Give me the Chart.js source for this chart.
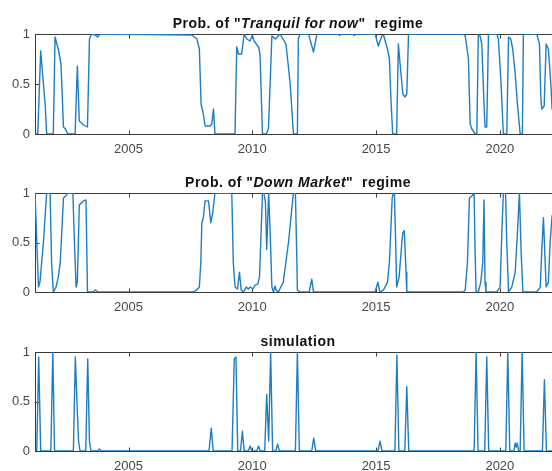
<!DOCTYPE html>
<html><head><meta charset="utf-8">
<script src="https://cdn.jsdelivr.net/npm/chart.js@4"></script>
<style>
html,body{margin:0;padding:0;background:#fff;overflow:hidden;}
#wrap{position:relative;width:552px;height:471px;overflow:hidden;background:#fff;}
canvas{position:absolute;left:0;}
.ttl{position:absolute;left:0;width:596px;text-align:center;font:bold 14px "Liberation Sans",Arial,sans-serif;color:#111;white-space:pre;letter-spacing:0.5px;line-height:14px;z-index:2;}
</style></head><body>
<div id="wrap">
<canvas id="c1" width="570" height="160"></canvas>
<canvas id="c2" width="570" height="160"></canvas>
<canvas id="c3" width="570" height="160"></canvas>
<div class="ttl" id="t1" style="top:16px">Prob. of "<i>Tranquil for now</i>"  regime</div>
<div class="ttl" id="t2" style="top:175px">Prob. of "<i>Down Market</i>"  regime</div>
<div class="ttl" id="t3" style="top:334px">simulation</div>
</div>
<script>
// ---- data (decimal years, probabilities) ----
const xTickYears = [2005, 2010, 2015, 2020];
const yTickValues = [0, 0.5, 1];
const xMin = 2001.22, xMax = 2022.47;

const tranquilYears = [2001.22,2001.33,2001.45,2001.56,2001.63,2001.69,2001.96,2002.03,2002.16,2002.27,2002.37,2002.45,2002.54,2002.84,2002.93,2003.01,2003.18,2003.34,2003.42,2003.51,2003.65,2003.75,2003.85,2007.55,2007.76,2007.86,2007.93,2008.02,2008.09,2008.29,2008.36,2008.43,2008.49,2009.30,2009.37,2009.44,2009.57,2009.67,2009.78,2009.91,2010.00,2010.07,2010.25,2010.31,2010.41,2010.56,2010.65,2010.79,2010.93,2011.12,2011.36,2011.53,2011.66,2011.82,2011.86,2011.93,2012.27,2012.47,2012.61,2013.45,2013.52,2013.6,2014.05,2014.12,2014.2,2014.96,2015.09,2015.23,2015.30,2015.46,2015.54,2015.59,2015.67,2015.83,2015.90,2015.97,2016.08,2016.17,2016.24,2016.31,2018.53,2018.60,2018.73,2018.80,2018.87,2019.00,2019.07,2019.13,2019.20,2019.27,2019.36,2019.40,2019.47,2019.54,2019.88,2019.94,2020.05,2020.14,2020.28,2020.35,2020.44,2020.52,2020.62,2020.71,2020.82,2020.91,2020.95,2021.49,2021.60,2021.65,2021.69,2021.79,2021.87,2021.96,2022.06,2022.11,2022.2,2022.47];
const tranquilProb  = [0,0,0.83,0.5,0.3,0,0,0.97,0.85,0.70,0.07,0.05,0,0,0.68,0.13,0.09,0.07,0.95,1.0,0.99,0.97,1.0,0.99,0.95,0.85,0.3,0.2,0.08,0.08,0.1,0.25,0,0,0.87,0.8,0.8,1.0,0.95,0.93,0.99,0.93,0.87,0.8,0,0,0.05,0.98,0.95,1.0,0.9,0.5,0,0,0.95,1.0,1.0,0.82,1.0,1.0,0.985,1.0,1.0,0.985,1.0,1.0,0.88,0.98,0.99,0.85,0.75,0.4,0,0,0.9,0.7,0.4,0.37,0.4,1.0,1.0,0.98,0.75,0.1,0.05,0,0,1.0,0.98,0.9,0.3,0.07,0.07,1.0,1.0,0.95,0.5,0,0,0.97,0.95,0.85,0.6,0.3,0,0,1.0,1.0,0.9,0.4,0.25,0.28,0.9,0.85,0.5,0.25,0.2,0.2];

const downYears = [2001.22,2001.36,2001.42,2001.56,2001.69,2001.83,2001.89,2001.96,2002.07,2002.16,2002.24,2002.37,2002.46,2002.54,2002.75,2002.80,2002.88,2002.93,2003.01,2003.18,2003.28,2003.34,2003.58,2003.66,2003.76,2007.6,2007.75,2007.86,2007.92,2007.96,2008.02,2008.09,2008.23,2008.32,2008.40,2008.49,2009.17,2009.23,2009.30,2009.40,2009.48,2009.55,2009.64,2009.75,2009.84,2009.91,2010.02,2010.11,2010.22,2010.29,2010.34,2010.41,2010.47,2010.53,2010.58,2010.66,2010.72,2010.79,2010.85,2010.92,2010.96,2011.05,2011.25,2011.46,2011.66,2011.74,2011.80,2011.82,2011.93,2012.30,2012.40,2012.47,2014.96,2015.07,2015.15,2015.30,2015.46,2015.54,2015.59,2015.65,2015.70,2015.74,2015.80,2015.83,2015.93,2016.04,2016.08,2016.14,2016.21,2016.24,2018.53,2018.60,2018.69,2018.77,2018.87,2018.96,2019.00,2019.04,2019.13,2019.23,2019.31,2019.36,2019.40,2019.44,2019.88,2020.01,2020.08,2020.14,2020.23,2020.28,2020.35,2020.48,2020.62,2020.71,2020.79,2020.86,2020.93,2021.49,2021.63,2021.69,2021.76,2021.83,2021.87,2021.96,2022.03,2022.11,2022.2,2022.47];
const downProb  = [1.0,0.05,0.1,0.5,1.0,1.0,0.3,0,0.05,0.15,0.3,0.95,0.97,1.0,1.0,0.6,0.05,0.1,0.88,0.92,0.93,0,0,0.02,0,0,0.02,0.05,0.3,0.7,0.75,0.92,0.92,0.7,0.8,1.0,1.0,0.3,0.05,0.03,0.2,0.02,0,0.05,0.03,0.05,0.03,0.07,0.08,0.15,0.5,1.0,1.0,0.9,0.43,1.0,0.6,0.05,0,0.06,0.02,0,0.1,0.5,1.0,1.0,0.3,0.02,0,0,0.13,0,0,0.1,0,0.02,0.1,0.3,0.6,0.95,1.0,1.0,0.4,0.05,0.15,0.5,0.6,0.62,0.2,0,0,0.02,0.3,0.95,0.97,1.0,0.4,0,0,0.1,0.3,0.93,0.1,0,0,0.05,0.6,1.0,1.0,0.5,0,0.05,0.2,0.6,1.0,0.4,0,0,0.05,0.4,0.75,0.3,0.05,0.1,0.5,0.77,0.8,0.8];

const simYears = [2001.22,2001.29,2001.37,2001.45,2001.86,2001.94,2002.01,2002.77,2002.85,2002.93,2002.98,2003.04,2003.27,2003.35,2003.42,2003.48,2003.75,2003.82,2003.9,2008.25,2008.34,2008.42,2009.18,2009.27,2009.34,2009.41,2009.52,2009.60,2009.67,2009.84,2009.91,2009.98,2010.18,2010.25,2010.32,2010.50,2010.58,2010.66,2010.74,2010.82,2010.95,2011.02,2011.09,2011.74,2011.82,2011.90,2012.40,2012.48,2012.56,2015.08,2015.16,2015.24,2015.76,2015.84,2015.92,2016.16,2016.24,2016.32,2018.96,2019.04,2019.12,2019.39,2019.47,2019.55,2020.24,2020.32,2020.40,2020.57,2020.62,2020.66,2020.70,2020.76,2020.82,2020.90,2020.98,2021.72,2021.80,2021.88,2022.47];
const simProb  = [0,0,0.95,0,0,1.0,0,0,0.95,0.4,0.1,0,0,0.93,0.1,0,0,0.02,0,0,0.23,0,0,0.93,0.95,0,0,0.2,0,0,0.05,0,0,0.05,0,0,0.57,0.1,1.0,0,0,0.07,0,0,1.0,0,0,0.13,0,0,0.1,0,0,0.97,0,0,0.65,0,0,1.0,0,0,0.95,0,0,1.0,0,0,0.08,0.04,0.08,0,0,1.0,0,0,0.72,0,0];

// ---- drawing ----
const framePlugin = {
  id: 'frame',
  beforeDatasetsDraw(chart) {
    const {ctx, chartArea: a, scales} = chart;
    ctx.save();
    ctx.strokeStyle = '#3a3a3a';
    ctx.lineWidth = 1;
    const l = Math.round(a.left) + 0.5, r = Math.round(a.right) + 0.5;
    const t = Math.round(a.top) + 0.5, b = Math.round(a.bottom) + 0.5;
    ctx.strokeRect(l, t, r - l, b - t);
    ctx.beginPath();
    xTickYears.forEach(v => {
      const x = Math.round(scales.x.getPixelForValue(v)) + 0.5;
      ctx.moveTo(x, b); ctx.lineTo(x, b - 4);
      ctx.moveTo(x, t); ctx.lineTo(x, t + 4);
    });
    yTickValues.forEach(v => {
      const y = Math.round(scales.y.getPixelForValue(v)) + 0.5;
      ctx.moveTo(l, y); ctx.lineTo(l + 4, y);
      ctx.moveTo(r, y); ctx.lineTo(r - 4, y);
    });
    ctx.stroke();
    ctx.restore();
  }
};

const tickFont = {family: '"Liberation Sans", Arial, sans-serif', size: 13};
const tickColor = '#474747';

function makePanel(id, years, probs, axisTop, axisBottom) {
  const el = document.getElementById(id);
  const canvasTop = axisTop - 34;
  el.style.top = canvasTop + 'px';
  const H = 160;
  const xAxisH = H - (axisBottom - canvasTop);
  new Chart(el.getContext('2d'), {
    type: 'line',
    data: {
      datasets: [{
        data: years.map((x, i) => ({x: x, y: probs[i]})),
        borderColor: '#1f7dc2', borderWidth: 1.4, pointRadius: 0, tension: 0, fill: false,
        borderJoinStyle: 'round'
      }]
    },
    options: {
      responsive: false, animation: false,
      layout: {padding: {top: 34, right: 9, left: 0, bottom: 0}},
      plugins: {legend: {display: false}, tooltip: {enabled: false}, title: {display: false}},
      scales: {
        x: {
          type: 'linear', min: xMin, max: xMax,
          afterBuildTicks: s => { s.ticks = xTickYears.map(v => ({value: v})); },
          afterFit: s => { s.height = xAxisH; },
          ticks: {callback: v => String(v), autoSkip: false, maxRotation: 0, padding: 8, color: tickColor, font: tickFont},
          grid: {display: false, drawTicks: false}, border: {display: false}
        },
        y: {
          min: 0, max: 1,
          afterBuildTicks: s => { s.ticks = yTickValues.map(v => ({value: v})); },
          afterFit: s => { s.width = 35; },
          ticks: {callback: v => String(v), padding: 5, color: tickColor, font: tickFont},
          grid: {display: false, drawTicks: false}, border: {display: false}
        }
      }
    },
    plugins: [framePlugin]
  });
}

makePanel('c1', tranquilYears, tranquilProb, 34, 134);
makePanel('c2', downYears, downProb, 193, 292);
makePanel('c3', simYears, simProb, 352, 451);
</script>
</body></html>
